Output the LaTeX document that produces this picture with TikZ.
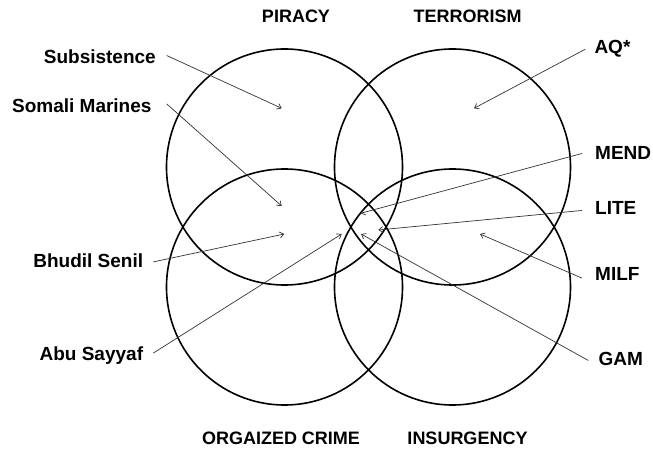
\documentclass[tikz,border=0pt]{standalone}
\usepackage{fontspec}
\setmainfont{Liberation Sans}
\usetikzlibrary{arrows.meta}
\begin{document}
\begin{tikzpicture}[x=1bp,y=-1bp,
  ring/.style={draw=black,line width=1.6bp},
  cat/.style={font=\fontsize{18bp}{22bp}\selectfont\bfseries,inner sep=0pt},
  lbl/.style={font=\fontsize{19bp}{23bp}\selectfont\bfseries,inner sep=0pt},
  pointer/.style={draw=black!80,line width=0.7bp,-{Straight Barb[length=4bp,width=6bp]}}]
\useasboundingbox (0,0) rectangle (653,449);
% circles
\node[ring,circle,minimum size=236bp,inner sep=0pt] (piracy) at (284.5,167) {};
\node[ring,circle,minimum size=236bp,inner sep=0pt] (terror) at (452.5,167) {};
\node[ring,circle,minimum size=236bp,inner sep=0pt] (crime) at (284.5,287) {};
\node[ring,circle,minimum size=236bp,inner sep=0pt] (insurg) at (452.5,287) {};
% category labels
\node[cat,anchor=base] (tpir) at (296,22.7) {PIRACY};
\node[cat,anchor=base] (tter) at (467.5,23) {TERRORISM};
\node[cat,anchor=base] (tcri) at (281,444.3) {ORGAIZED CRIME};
\node[cat,anchor=base] (tins) at (467.5,444.3) {INSURGENCY};
% left labels
\node[lbl,anchor=base east] (sub) at (156,63.3) {Subsistence};
\node[lbl,anchor=base east] (som) at (151.7,112.7) {Somali Marines};
\node[lbl,anchor=base east] (bhu) at (143.3,267.7) {Bhudil Senil};
\node[lbl,anchor=base east] (abu) at (143.3,360) {Abu Sayyaf};
% right labels
\node[lbl,anchor=base west] (aq) at (594.3,54) {AQ*};
\node[lbl,anchor=base west] (mend) at (595,160) {MEND};
\node[lbl,anchor=base west] (lite) at (595,215) {LITE};
\node[lbl,anchor=base west] (milf) at (595,280.7) {MILF};
\node[lbl,anchor=base west] (gam) at (598.3,365) {GAM};
% targets
\coordinate (psub) at (281.7,108.3);
\coordinate (psom) at (281.7,206);
\coordinate (pbhu) at (284.3,234);
\coordinate (pabu) at (341.7,234);
\coordinate (paq) at (474,108.3);
\coordinate (pmend) at (360.7,213.3);
\coordinate (plite) at (378.3,230);
\coordinate (pmilf) at (480,234);
\coordinate (pgam) at (361,234);
% pointers
\draw[pointer] ([xshift=10.7bp,yshift=1bp]sub.east) -- (psub);
\draw[pointer] ([xshift=15bp,yshift=2bp]som.east) -- (psom);
\draw[pointer] ([xshift=10bp,yshift=-1bp]bhu.east) -- (pbhu);
\draw[pointer] ([xshift=10bp,yshift=2bp]abu.east) -- (pabu);
\draw[pointer] ([xshift=-9bp]aq.west) -- (paq);
\draw[pointer] ([xshift=-13bp]mend.west) -- (pmend);
\draw[pointer] ([xshift=-13bp,yshift=-2bp]lite.west) -- (plite);
\draw[pointer] ([xshift=-13bp,yshift=-4bp]milf.west) -- (pmilf);
\draw[pointer] ([xshift=-10bp,yshift=-2bp]gam.west) -- (pgam);
\end{tikzpicture}
\end{document}
